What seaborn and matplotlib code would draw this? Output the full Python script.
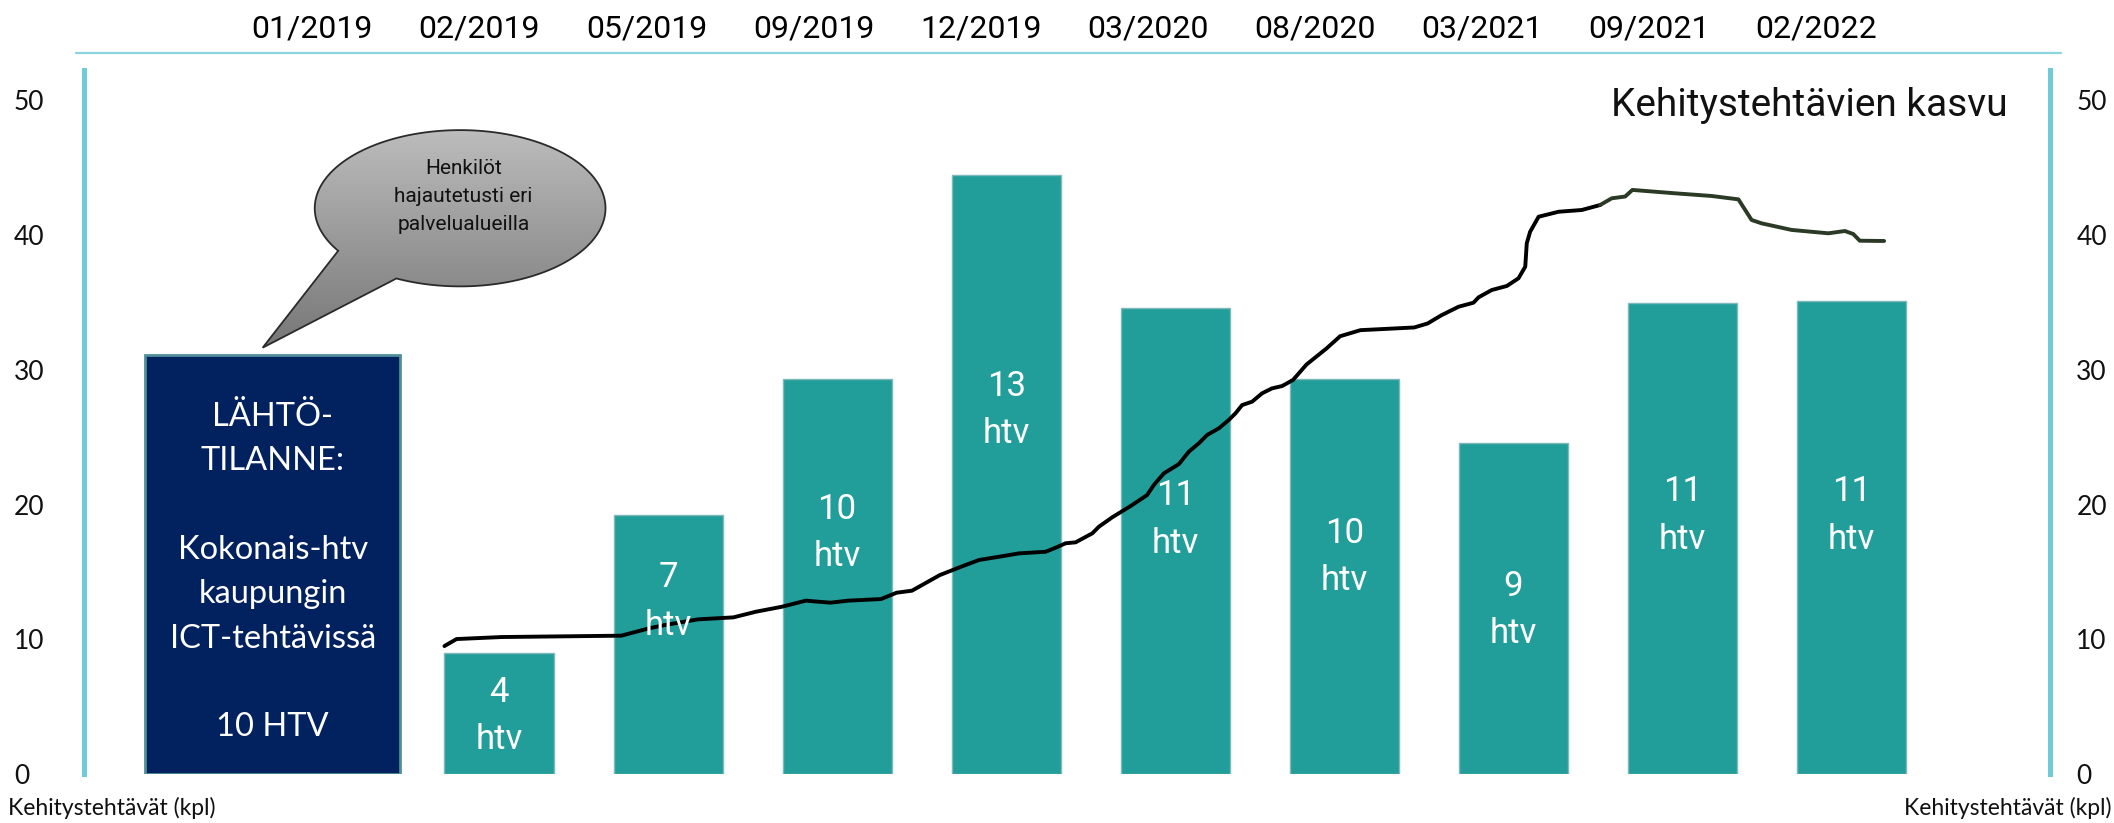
import numpy as np
import pandas as pd
import matplotlib
matplotlib.use("Agg")
import matplotlib.pyplot as plt
import seaborn as sns
from matplotlib import font_manager
from matplotlib.patches import PathPatch
from matplotlib.path import Path
from matplotlib.lines import Line2D
from matplotlib.colors import LinearSegmentedColormap

# ---------------- data ----------------
dates = ["01/2019", "02/2019", "05/2019", "09/2019", "12/2019",
         "03/2020", "08/2020", "03/2021", "09/2021", "02/2022"]
bar_values = [31.1, 9.0, 19.2, 29.3, 44.5, 34.6, 29.3, 24.6, 35.0, 35.1]
bar_numbers = ["", "4", "7", "10", "13", "11", "10", "9", "11", "11"]
start_text = "LÄHTÖ-\nTILANNE:\n\nKokonais-htv\nkaupungin\nICT-tehtävissä\n\n10 HTV"
bubble_text = "Henkilöt\nhajautetusti eri\npalvelualueilla"
title_text = "Kehitystehtävien kasvu"
axis_text = "Kehitystehtävät (kpl)"
y_ticks = [0, 10, 20, 30, 40, 50]

# growth line (time position on the bar axis, count)
line_t = [0.677, 0.749, 1.015, 1.723, 1.889, 1.98, 2.176, 2.387, 2.52, 2.674,
          2.815, 2.96, 3.066, 3.26, 3.352, 3.443, 3.608, 3.744, 3.84, 3.958,
          4.076, 4.234, 4.293, 4.352, 4.411, 4.51, 4.549, 4.628, 4.737, 4.834,
          4.874, 4.933, 5.022, 5.081, 5.14, 5.189, 5.258, 5.317, 5.357, 5.396,
          5.455, 5.514, 5.573, 5.632, 5.697, 5.777, 5.896, 5.976, 6.096, 6.255,
          6.414, 6.494, 6.574, 6.677, 6.765, 6.795, 6.873, 6.962, 7.031, 7.071,
          7.08, 7.1, 7.15, 7.268, 7.405, 7.514]
line_v = [9.50, 10.02, 10.17, 10.27, 10.82, 11.06, 11.48, 11.63, 12.05, 12.42,
          12.87, 12.72, 12.87, 12.99, 13.46, 13.61, 14.77, 15.44, 15.89, 16.13,
          16.38, 16.5, 16.8, 17.13, 17.2, 17.87, 18.36, 19.06, 19.9, 20.71,
          21.46, 22.32, 23.01, 23.93, 24.55, 25.17, 25.66, 26.28, 26.78, 27.39,
          27.64, 28.26, 28.63, 28.8, 29.25, 30.4, 31.6, 32.5, 32.95, 33.05,
          33.15, 33.45, 34.05, 34.69, 34.99, 35.39, 35.93, 36.23, 36.8, 37.66,
          39.4, 40.26, 41.37, 41.74, 41.87, 42.24]
line2_t = [7.514, 7.583, 7.662, 7.705, 7.957, 8.174, 8.332, 8.41, 8.469, 8.647,
           8.864, 8.962, 9.011, 9.05, 9.194]
line2_v = [42.24, 42.74, 42.87, 43.36, 43.11, 42.91, 42.66, 41.13, 40.88, 40.39,
           40.14, 40.31, 40.09, 39.59, 39.57]

# ---------------- layout / style ----------------
label_levels = [15.0, 4.3, 12.8, 17.9, 27.0, 18.9, 16.1, 12.2, 19.2, 19.2]
date_pos = [-0.104 + 0.9886 * i for i in range(len(dates))]
NAVY = "#02215f"
TEAL = "#229e9a"
CYAN = "#6ecbd8"

sns.set_style("white")
names = {f.name for f in font_manager.fontManager.ttflist}
NARROW = "Liberation Sans Narrow" if "Liberation Sans Narrow" in names else "Roboto"
REG = "Lato" if "Lato" in names else "DejaVu Sans"
plt.rcParams["font.family"] = [REG, "DejaVu Sans"]

fig = plt.figure(figsize=(21.14, 8.23), dpi=100)
ax = fig.add_axes([0.0395, 0.0595, 0.9302, 0.8554])

df = pd.DataFrame({"date": dates, "value": bar_values})
palette = [NAVY] + [TEAL] * (len(dates) - 1)
sns.barplot(data=df, x="date", y="value", hue="date", palette=palette,
            legend=False, width=0.645, saturation=1, ax=ax, zorder=2)

bars = sorted(ax.patches, key=lambda p: p.get_x())
for i, p in enumerate(bars):
    if i == 0:
        p.set_x(-1.092)
        p.set_width(1.506)
        p.set_edgecolor("#4f8f99")
        p.set_linewidth(2.0)
    else:
        p.set_edgecolor("#7fb9bc")
        p.set_linewidth(1.0)

sns.lineplot(x=line_t, y=line_v, sort=False, estimator=None, color="black",
             linewidth=2.8, ax=ax, zorder=3)
sns.lineplot(x=line2_t, y=line2_v, sort=False, estimator=None, color="#2b3a24",
             linewidth=2.8, ax=ax, zorder=3)

# bar labels
for i, p in enumerate(bars):
    cx = p.get_x() + p.get_width() / 2
    if i == 0:
        ax.text(cx, label_levels[i], start_text, ha="center", va="center",
                color="white", fontsize=23.5, family=[REG, "DejaVu Sans"],
                linespacing=1.6, zorder=4)
    else:
        ax.text(cx, label_levels[i], bar_numbers[i] + "\nhtv", ha="center",
                va="center", color="white", fontsize=25,
                family=[NARROW, "DejaVu Sans"], linespacing=1.55, zorder=4)

# speech bubble
bcx, bcy, ba, bb = 0.77, 42.0, 0.86, 5.8
tip = (-0.398, 31.65)
th = np.radians(np.linspace(244, 213 + 360, 240))
verts = [(bcx + ba * np.cos(t), bcy + bb * np.sin(t)) for t in th]
verts.append(tip)
verts.append(verts[0])
codes = [Path.MOVETO] + [Path.LINETO] * (len(verts) - 2) + [Path.CLOSEPOLY]
bpath = Path(verts, codes)
bpatch = PathPatch(bpath, facecolor="none", edgecolor="#2a2a2a", lw=1.3, zorder=6)
ax.add_patch(bpatch)
cmap = LinearSegmentedColormap.from_list("g", ["#bcbcbc", "#777777"])
grad = np.linspace(0, 1, 256).reshape(-1, 1)
im = ax.imshow(grad, cmap=cmap, aspect="auto", origin="upper", zorder=5,
               extent=[tip[0], bcx + ba, tip[1], bcy + bb])
im.set_clip_path(bpatch)
ax.text(0.79, 42.9, bubble_text, ha="center", va="center", fontsize=15,
        color="#111111", family=[NARROW, "DejaVu Sans"], linespacing=1.6, zorder=7)

# axes styling
ax.set_xlim(-1.458, 10.175)
ax.set_ylim(0, 52.26)
ax.set_xlabel("")
ax.set_ylabel("")
for s in ["top", "bottom"]:
    ax.spines[s].set_visible(False)
for s in ["left", "right"]:
    ax.spines[s].set_color(CYAN)
    ax.spines[s].set_linewidth(3.6)

ax.xaxis.tick_top()
ax.set_xticks(date_pos)
ax.set_xticklabels(dates, family=[NARROW, "DejaVu Sans"], fontsize=23)
ax.tick_params(axis="x", length=0, pad=19, colors="black")

ax.set_yticks(y_ticks)
ax.set_yticklabels([str(v) for v in y_ticks], ha="left", fontsize=19)
ax.tick_params(axis="y", length=0, pad=50, colors="#111111")

ax2 = ax.twinx()
ax2.set_ylim(ax.get_ylim())
ax2.set_yticks(y_ticks)
ax2.set_yticklabels([str(v) for v in y_ticks], fontsize=19)
ax2.tick_params(axis="y", length=0, pad=19, colors="#111111")
for s in ax2.spines.values():
    s.set_visible(False)

ax.text(0.9786, 0.949, title_text, transform=ax.transAxes, ha="right",
        va="center", fontsize=28, family=[NARROW, "DejaVu Sans"], color="#111111")

fig.add_artist(Line2D([0.036, 0.975], [0.936, 0.936], transform=fig.transFigure,
                      color="#8ad4de", lw=1.6))
fig.text(0.004, 0.018, axis_text, ha="left", va="center", fontsize=16.5, color="#111111")
fig.text(0.999, 0.018, axis_text, ha="right", va="center", fontsize=16.5, color="#111111")

fig.savefig("out.png", dpi=100)
